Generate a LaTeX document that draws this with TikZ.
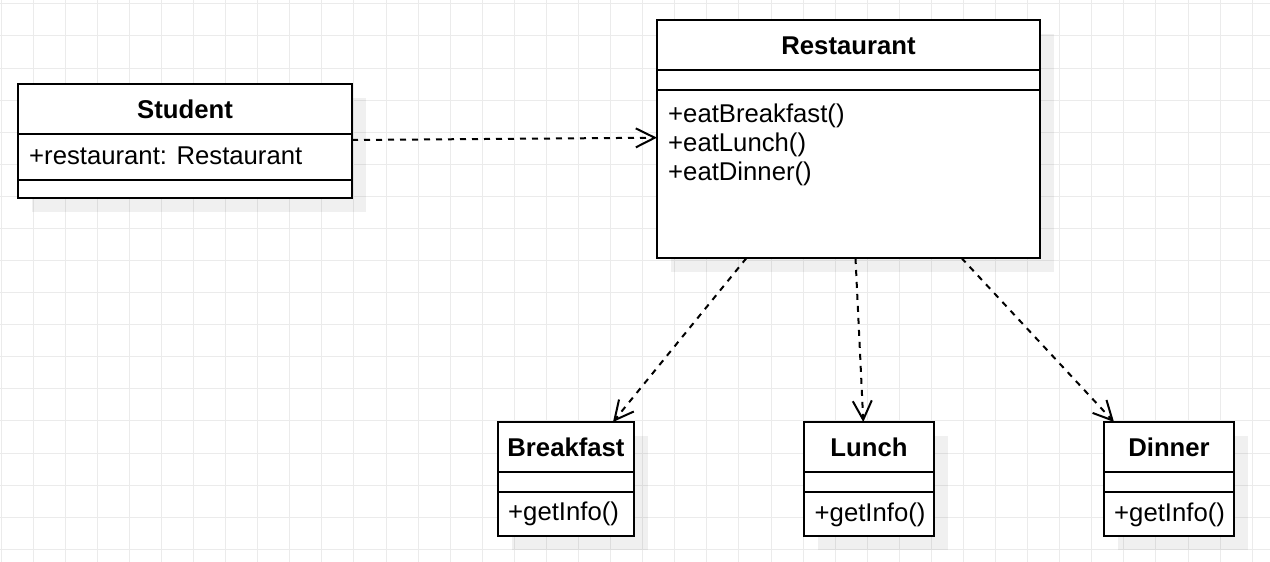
\documentclass[tikz,border=0pt]{standalone}
\usepackage{fontspec}
\setmainfont{Liberation Sans}
\usetikzlibrary{arrows.meta,shadows}

\begin{document}
\begin{tikzpicture}[
            x=1pt, y=-1pt,
            font=\fontsize{25.7}{30}\selectfont,
            grade/.style={draw=black!8, line width=1pt},
            classe/.style={shape=rectangle, draw=black, line width=2pt, fill=white, inner sep=0pt, outer sep=0pt,
                drop shadow={shadow xshift=14pt, shadow yshift=-14pt, fill=black, opacity=0.06}},
            divisoria/.style={line width=2pt},
            titulo/.style={anchor=base, inner sep=0pt, font=\fontsize{25.7}{30}\selectfont\bfseries},
            membro/.style={anchor=base west, inner sep=0pt},
            dependencia/.style={line width=2pt, dash pattern=on 6pt off 6pt,
                -{Straight Barb[length=19pt, width=19pt, line width=2pt]}},
        ]
        \fill[white] (0,0) rectangle (1270,562);
        \useasboundingbox (0,0) rectangle (1270,562);
        \foreach \i in {0,...,39} \draw[grade] ({1.1+32.08*\i},0) -- ({1.1+32.08*\i},562);
        \foreach \i in {0,...,17} \draw[grade] (0,{3.9+32.08*\i}) -- (1270,{3.9+32.08*\i});

        \node[classe, minimum width=334pt, minimum height=114pt] (estudante) at (185, 141) {};
        \node[classe, minimum width=383pt, minimum height=238pt] (restaurante) at (848.5, 139) {};
        \node[classe, minimum width=136pt, minimum height=114pt] (cafe) at (566, 479) {};
        \node[classe, minimum width=130pt, minimum height=114pt] (almoco) at (869, 479) {};
        \node[classe, minimum width=130pt, minimum height=114pt] (jantar) at (1169, 479) {};

        \draw[divisoria] ([yshift=-50pt]estudante.north west) -- ([yshift=-50pt]estudante.north east);
        \draw[divisoria] ([yshift=-96pt]estudante.north west) -- ([yshift=-96pt]estudante.north east);
        \draw[divisoria] ([yshift=-50pt]restaurante.north west) -- ([yshift=-50pt]restaurante.north east);
        \draw[divisoria] ([yshift=-70pt]restaurante.north west) -- ([yshift=-70pt]restaurante.north east);
        \draw[divisoria] ([yshift=-50pt]cafe.north west) -- ([yshift=-50pt]cafe.north east);
        \draw[divisoria] ([yshift=-70pt]cafe.north west) -- ([yshift=-70pt]cafe.north east);
        \draw[divisoria] ([yshift=-50pt]almoco.north west) -- ([yshift=-50pt]almoco.north east);
        \draw[divisoria] ([yshift=-70pt]almoco.north west) -- ([yshift=-70pt]almoco.north east);
        \draw[divisoria] ([yshift=-50pt]jantar.north west) -- ([yshift=-50pt]jantar.north east);
        \draw[divisoria] ([yshift=-70pt]jantar.north west) -- ([yshift=-70pt]jantar.north east);

        \node[titulo] (estudantenome) at (185, 118.3) {Student};
        \node[membro] (estudanteatrib) at (29, 164.3) {+restaurant: Restaurant};
        \node[titulo] (restaurantenome) at (848.5, 54.3) {Restaurant};
        \node[membro] (restaurantecafe) at (668, 122) {+eatBreakfast()};
        \node[membro] (restaurantealmoco) at (668, 151) {+eatLunch()};
        \node[membro] (restaurantejantar) at (668, 180) {+eatDinner()};
        \node[titulo] (cafenome) at (566, 456) {Breakfast};
        \node[membro] (cafeinfo) at (508, 520.5) {+getInfo()};
        \node[titulo] (almoconome) at (869, 456) {Lunch};
        \node[membro] (almocoinfo) at (814.5, 521) {+getInfo()};
        \node[titulo] (jantarnome) at (1169, 456) {Dinner};
        \node[membro] (jantarinfo) at (1114, 521) {+getInfo()};

        \draw[dependencia] ([yshift=1pt]estudante.east) -- ([yshift=1.3pt]restaurante.west);
        \draw[dependencia] ([xshift=-102pt]restaurante.south) -- ([xshift=47pt]cafe.north);
        \draw[dependencia] ([xshift=7pt]restaurante.south) -- ([xshift=-5.7pt]almoco.north);
        \draw[dependencia] ([xshift=113pt]restaurante.south) -- ([xshift=-55pt]jantar.north);

    \end{tikzpicture}
\end{document}
